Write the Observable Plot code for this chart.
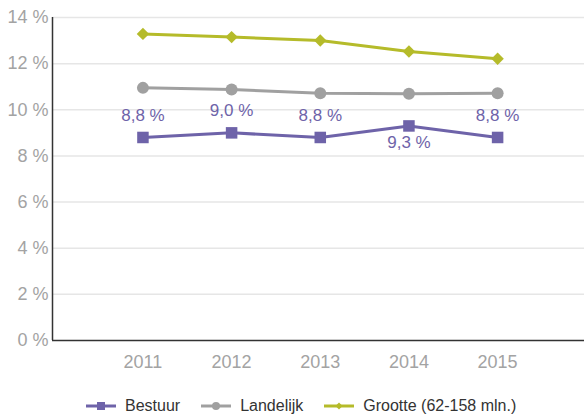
<!DOCTYPE html>
<html><head><meta charset="utf-8">
<script src="https://cdn.jsdelivr.net/npm/d3@7"></script>
<script src="https://cdn.jsdelivr.net/npm/@observablehq/plot@0.6"></script>
<style>
body{margin:0;background:#fff;font-family:"Liberation Sans",Arial,sans-serif;}
#chart svg{display:block;}
#legend{display:flex;align-items:center;padding-left:86px;padding-top:11px;height:20px;line-height:20px;font-size:16px;color:#333;}
.item{display:flex;align-items:center;margin-right:21px;}
.item svg{margin-right:9px;display:block;}
</style></head><body><div id="chart"></div><div id="legend"></div>
<script>
const years=[2011,2012,2013,2014,2015];
const bestuur=[8.8,9.0,8.8,9.3,8.8];
const landelijk=[10.95,10.88,10.72,10.69,10.72];
const grootte=[13.29,13.15,13.0,12.53,12.21];
const bestuurLabels=["8,8 %","9,0 %","8,8 %","9,3 %","8,8 %"];
const labelBelow=[false,false,false,true,false];
const yTicks=[0,2,4,6,8,10,12,14];
const seriesNames=["Bestuur","Landelijk","Grootte (62-158 mln.)"];
const colors=["#6e63a9","#a0a0a0","#b5bb2a"];
const symbols=["square","circle","diamond2"];
const radii=[6.5,6,5.6];

const seriesValues=[bestuur,landelijk,grootte];
const xDomain=[2009.98,2015.98];
const data=[];
seriesValues.forEach((vals,s)=>years.forEach((y,i)=>data.push({year:y,value:vals[i],series:seriesNames[s]})));
const labels=years.map((y,i)=>({year:y,value:bestuur[i],text:bestuurLabels[i],below:labelBelow[i]}));

const marks=[
  Plot.gridY(yTicks.filter(d=>d>0),{stroke:"#e6e6e6",strokeOpacity:1,strokeWidth:1.5}),
  Plot.axisY({ticks:yTicks,tickSize:0,tickPadding:4,tickFormat:d=>d+" %",fill:"#a3a3a3",fontSize:18,label:null}),
  Plot.axisX({ticks:years,tickSize:0,tickPadding:15,tickFormat:d=>String(d),fill:"#a3a3a3",fontSize:18,label:null}),
  Plot.ruleX([xDomain[0]],{stroke:"#333",strokeWidth:1.5}),
  Plot.ruleY([0],{stroke:"#333",strokeWidth:1.5})
];
[2,1,0].forEach(s=>{
  const d=data.filter(r=>r.series===seriesNames[s]);
  marks.push(Plot.line(d,{x:"year",y:"value",stroke:colors[s],strokeWidth:3}));
  marks.push(Plot.dot(d,{x:"year",y:"value",fill:colors[s],symbol:symbols[s],r:radii[s],stroke:"none"}));
});
marks.push(Plot.text(labels.filter(d=>!d.below),{x:"year",y:"value",text:"text",dy:-22,fill:colors[0],fontSize:17}));
marks.push(Plot.text(labels.filter(d=>d.below),{x:"year",y:"value",text:"text",dy:17,fill:colors[0],fontSize:17}));

const chart=Plot.plot({
  width:584,height:385,marginTop:17,marginBottom:45,marginLeft:52,marginRight:0,
  style:{fontFamily:"Liberation Sans, Arial, sans-serif",fontSize:"16px",background:"#fff"},
  x:{type:"linear",domain:xDomain,label:null},
  y:{domain:[0,14],label:null},
  marks
});
document.getElementById("chart").appendChild(chart);

const legend=document.getElementById("legend");
seriesNames.forEach((name,s)=>{
  const item=document.createElement("div");item.className="item";
  let marker;
  if(s===0) marker=`<rect x="11" y="3" width="8" height="8" fill="${colors[s]}"/>`;
  else if(s===1) marker=`<circle cx="15" cy="7" r="4" fill="${colors[s]}"/>`;
  else marker=`<path d="M15,3.5L18.5,7L15,10.5L11.5,7Z" fill="${colors[s]}"/>`;
  item.innerHTML=`<svg width="30" height="14"><line x1="0" y1="7" x2="30" y2="7" stroke="${colors[s]}" stroke-width="3"/>${marker}</svg><span>${name}</span>`;
  legend.appendChild(item);
});
</script></body></html>
